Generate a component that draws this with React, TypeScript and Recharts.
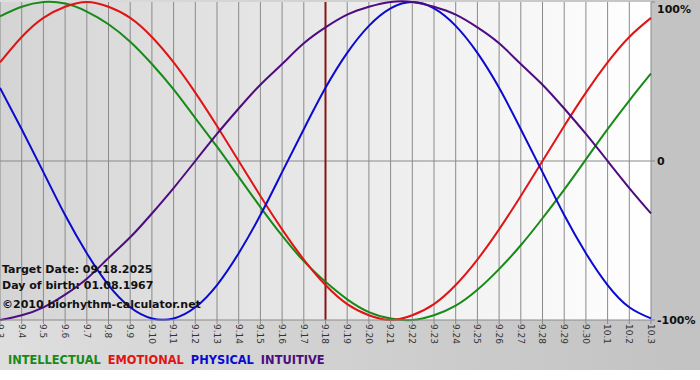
import { CartesianGrid, Line, LineChart, ReferenceLine, XAxis, YAxis } from "recharts";

const days = [
  "9.3", "9.4", "9.5", "9.6", "9.7", "9.8", "9.9", "9.10", "9.11", "9.12", "9.13",
  "9.14", "9.15", "9.16", "9.17", "9.18", "9.19", "9.20", "9.21", "9.22", "9.23",
  "9.24", "9.25", "9.26", "9.27", "9.28", "9.29", "9.30", "10.1", "10.2", "10.3",
];

// cycle values, -1..1
const intellectual = [
  0.91, 0.97, 1.0, 0.99, 0.94, 0.86, 0.75, 0.61, 0.45, 0.27, 0.09, -0.1, -0.29, -0.47,
  -0.63, -0.76, -0.87, -0.95, -0.99, -1.0, -0.97, -0.91, -0.81, -0.68, -0.53, -0.36,
  -0.18, 0.01, 0.2, 0.38, 0.55,
];
const emotional = [
  0.62, 0.78, 0.9, 0.97, 1.0, 0.97, 0.9, 0.78, 0.62, 0.43, 0.22, 0.0, -0.22, -0.43,
  -0.62, -0.78, -0.9, -0.97, -1.0, -0.97, -0.9, -0.78, -0.62, -0.43, -0.22, 0.0, 0.22,
  0.43, 0.62, 0.78, 0.9,
];
const physical = [
  0.46, 0.2, -0.07, -0.34, -0.58, -0.78, -0.92, -0.99, -0.99, -0.92, -0.78, -0.58,
  -0.34, -0.07, 0.2, 0.46, 0.68, 0.85, 0.96, 1.0, 0.96, 0.85, 0.68, 0.46, 0.2, -0.07,
  -0.34, -0.58, -0.78, -0.92, -0.99,
];
const intuitive = [
  -1.0, -0.97, -0.92, -0.84, -0.74, -0.61, -0.48, -0.33, -0.17, 0.0, 0.17, 0.33, 0.48,
  0.61, 0.74, 0.84, 0.92, 0.97, 1.0, 1.0, 0.97, 0.92, 0.84, 0.74, 0.61, 0.48, 0.33,
  0.17, 0.0, -0.17, -0.33,
];

const yTicks = [-1, 0, 1];
const yLabels = ["-100%", "0", "100%"];
const targetDay = "9.18";

const series = [
  { key: "intellectual", name: "INTELLECTUAL", color: "#178a17" },
  { key: "emotional", name: "EMOTIONAL", color: "#e01414" },
  { key: "physical", name: "PHYSICAL", color: "#0a0ad0" },
  { key: "intuitive", name: "INTUITIVE", color: "#4d0c80" },
];

const data = days.map((d, i) => ({
  i,
  intellectual: intellectual[i],
  emotional: emotional[i],
  physical: physical[i],
  intuitive: intuitive[i],
}));

const font = "'DejaVu Sans', Verdana, sans-serif";

function XTick({ x, y, payload }: any) {
  return (
    <g transform={`translate(${x},${y})`}>
      <text transform="rotate(90)" dy="0.35em" textAnchor="start" fontSize={9} fill="#333" fontFamily={font}>
        {days[payload.value]}
      </text>
    </g>
  );
}

function YTick({ x, y, payload }: any) {
  const label = yLabels[yTicks.indexOf(payload.value)];
  return (
    <text x={x} y={Math.max(y, 8)} dy="0.35em" textAnchor="start" fontSize={11} fontWeight="bold" fill="#111" fontFamily={font}>
      {label}
    </text>
  );
}

export default function App() {
  const note = { fontFamily: font, fontWeight: "bold" as const, fontSize: 11, color: "#111", position: "absolute" as const, left: 2, whiteSpace: "nowrap" as const };
  return (
    <div style={{ position: "absolute", left: 0, top: 0, width: 700, height: 380, background: "#fff" }}>
      <div style={{ position: "absolute", left: 0, top: 0, width: 700, height: 370, background: "linear-gradient(to right, #dedede, #c2c2c2)" }} />
      <LineChart width={700} height={370} data={data} margin={{ top: 2, right: 0, bottom: 0, left: 0 }} style={{ position: "absolute", left: 0, top: 0 }}>
        <defs>
          <linearGradient id="plotBg" x1="0" y1="0" x2="1" y2="0">
            <stop offset="0%" stopColor="#d4d4d4" />
            <stop offset="100%" stopColor="#ffffff" />
          </linearGradient>
        </defs>
        <CartesianGrid horizontal={false} stroke="#8a8a8a" fill="url(#plotBg)" fillOpacity={1} />
        <XAxis
          dataKey="i"
          type="number"
          domain={[0, 30]}
          ticks={days.map((_, i) => i)}
          interval={0}
          height={50}
          tick={<XTick />}
          tickSize={4}
          tickMargin={0}
          stroke="#8a8a8a"
        />
        <YAxis
          orientation="right"
          domain={[-1, 1]}
          ticks={yTicks}
          width={49}
          tick={<YTick />}
          tickSize={4}
          tickMargin={2}
          axisLine={false}
          stroke="#8a8a8a"
        />
        <ReferenceLine y={0} stroke="#8a8a8a" />
        <ReferenceLine x={days.indexOf(targetDay)} stroke="#8a1414" strokeWidth={2} />
        {series.map((s) => (
          <Line
            key={s.key}
            type="natural"
            dataKey={s.key}
            stroke={s.color}
            strokeWidth={2}
            dot={false}
            isAnimationActive={false}
          />
        ))}
      </LineChart>
      <div style={{ position: "absolute", left: 8, top: 353, fontFamily: font, fontWeight: "bold", fontSize: 11.4, whiteSpace: "nowrap" }}>
        {series.map((s) => (
          <span key={s.key} style={{ color: s.color, marginRight: 7 }}>
            {s.name}
          </span>
        ))}
      </div>
      <div style={{ ...note, top: 263 }}>Target Date: 09.18.2025</div>
      <div style={{ ...note, top: 279 }}>Day of birth: 01.08.1967</div>
      <div style={{ ...note, top: 298 }}>©2010 biorhythm-calculator.net</div>
    </div>
  );
}
